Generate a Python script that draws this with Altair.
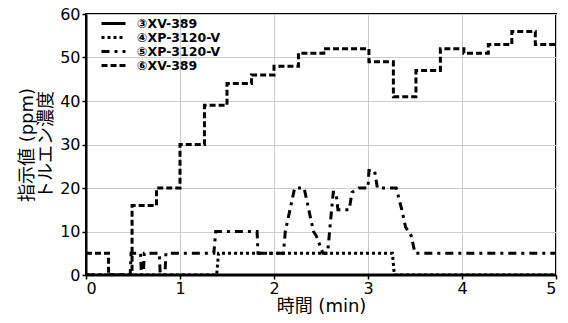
import altair as alt
import pandas as pd

series_names = ["③XV-389", "④XP-3120-V", "⑤XP-3120-V", "⑥XV-389"]

s3_t = [0, 5]
s3_v = [0, 0]

s4_t = [0, 1.39, 1.41, 3.26, 3.28, 5]
s4_v = [0, 0, 5, 5, 0, 0]

s5_t = [0, 0.47, 0.48, 0.58, 0.59, 0.61, 0.62, 0.78, 0.79, 0.84, 0.85, 1.36, 1.38, 1.82, 1.83,
        2.10, 2.12, 2.17, 2.22, 2.32, 2.37, 2.42, 2.45, 2.52, 2.57, 2.60, 2.63, 2.66, 2.68, 2.80,
        2.83, 2.90, 3.00, 3.01, 3.07, 3.10, 3.30, 3.36, 3.40, 3.46, 3.50, 5]
s5_v = [0, 0, 5, 5, 0, 0, 5, 5, 0, 0, 5, 5, 10, 10, 5,
        5, 10, 15, 20, 20, 15, 10, 9, 5, 5, 12, 19, 19, 15, 15,
        19, 20, 20, 24, 24, 20, 20, 15, 11, 9, 5, 5]

s6_t = [0, 0.24, 0.24, 0.49, 0.49, 0.75, 0.75, 1.0, 1.0, 1.26, 1.26, 1.5, 1.5, 1.76, 1.76,
        2.0, 2.0, 2.26, 2.26, 2.53, 2.53, 3.01, 3.01, 3.27, 3.27, 3.51, 3.51, 3.77, 3.77,
        4.02, 4.02, 4.28, 4.28, 4.53, 4.53, 4.78, 4.78, 5]
s6_v = [5, 5, 0, 0, 16, 16, 20, 20, 30, 30, 39, 39, 44, 44, 46,
        46, 48, 48, 51, 51, 52, 52, 49, 49, 41, 41, 47, 47, 52,
        52, 51, 51, 53, 53, 56, 56, 53, 53]

x_ticks = [0, 1, 2, 3, 4, 5]
y_ticks = [0, 10, 20, 30, 40, 50, 60]

rows = []
for name, ts, vs in zip(series_names, [s3_t, s4_t, s5_t, s6_t], [s3_v, s4_v, s5_v, s6_v]):
    for i, (t, v) in enumerate(zip(ts, vs)):
        rows.append({"series": name, "t": t, "v": v, "i": i})
df = pd.DataFrame(rows)

FONT = "DejaVu Sans, Noto Sans CJK JP"

chart = alt.Chart(df).mark_line(
    color="black", strokeWidth=3, strokeCap="butt", strokeJoin="miter", clip=True
).encode(
    x=alt.X("t:Q", scale=alt.Scale(domain=[0, 5], nice=False),
            axis=alt.Axis(values=x_ticks, title="時間 (min)", format="d")),
    y=alt.Y("v:Q", scale=alt.Scale(domain=[0, 60], nice=False),
            axis=alt.Axis(values=y_ticks, title=["指示値 (ppm)", "トルエン濃度"])),
    strokeDash=alt.StrokeDash(
        "series:N",
        scale=alt.Scale(domain=series_names,
                        range=[[30, 0], [3, 3], [8, 5, 3, 5], [6, 3]]),
        legend=alt.Legend(title=None, orient="none", legendX=20, legendY=2,
                          symbolType="M-2,0L2,0", symbolSize=144, symbolStrokeWidth=3,
                          symbolStrokeColor="black",
                          labelFontWeight="bold", labelFontSize=12.5, labelFont=FONT,
                          rowPadding=0, labelOffset=16),
    ),
    order="i:Q",
).properties(
    width=470, height=261,
    padding={"left": 78, "top": 6, "right": 4, "bottom": 40},
    autosize=alt.AutoSizeParams(type="none"),
).configure_view(
    stroke="black", strokeWidth=2
).configure_axis(
    grid=True, gridColor="#cccccc", gridWidth=1,
    domainColor="black", domainWidth=2,
    tickColor="black", tickSize=4, tickWidth=1.5,
    labelFont=FONT, labelFontSize=16, labelColor="black",
    titleFont=FONT, titleFontSize=18, titleColor="black", titleFontWeight="normal",
).configure_axisY(
    labelPadding=2, titlePadding=4, titleLineHeight=19
).configure_axisX(
    labelPadding=1, titlePadding=1
)

chart.save("out.html", embed_options={"renderer": "svg", "actions": False})
